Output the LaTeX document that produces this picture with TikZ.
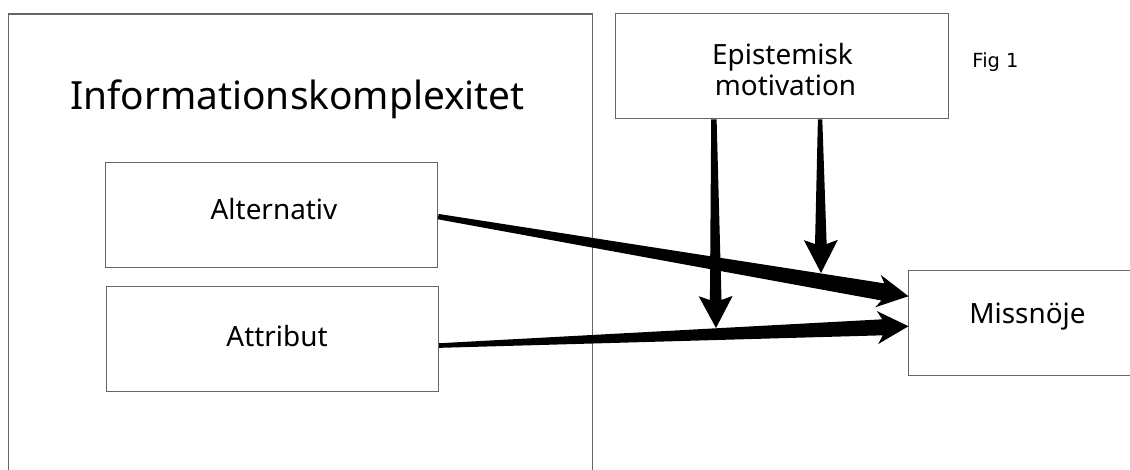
\documentclass[tikz,border=0pt]{standalone}
\usepackage{fontspec}
\setmainfont{Noto Sans}
\newfontfamily\figfont{DejaVu Sans}
\usetikzlibrary{calc}
\newcommand{\taper}[7]{% start, tip, start hw, shaft-end hw, head hw, shaft length to tip, head corner distance
  \path (#1) coordinate (tA) (#2) coordinate (tB);
  \path ($(tB)!#6!(tA)$) coordinate (tP);
  \path ($(tB)!#7!(tA)$) coordinate (tQ);
  \fill[black] ($(tA)!#3!90:(tB)$) -- ($(tP)!#4!90:(tB)$) -- ($(tQ)!#5!90:(tB)$) -- (tB)
    -- ($(tQ)!#5!-90:(tB)$) -- ($(tP)!#4!-90:(tB)$) -- ($(tA)!#3!-90:(tB)$) -- cycle;
}
\tikzset{
  box/.style={draw=black!60, line width=1.1bp, rectangle, inner sep=0pt},
  edge/.style={draw=black!60, line width=1.1bp},
  lbl/.style={font=\fontsize{28}{32}\selectfont, inner sep=0pt, anchor=base},
}
\begin{document}
\begin{tikzpicture}[x=1bp,y=-1bp]
\useasboundingbox (0,0) rectangle (1130,470);
% big frame (open beyond the bottom edge)
\node[minimum width=584bp, minimum height=456bp, anchor=north west, inner sep=0pt] (frame) at (8.4,14) {};
\draw[edge] (frame.south west) -- (frame.north west) -- (frame.north east) -- (frame.south east);
\node[lbl, font=\fontsize{39}{44}\selectfont] (title) at (297.5,109.5) {Informationskomplexitet};
% boxes
\node[box, minimum width=332bp, minimum height=104.7bp, anchor=north west] (alt) at (105,162) {};
\node[lbl] (altT) at (274,220) {Alternativ};
\node[box, minimum width=332bp, minimum height=105bp, anchor=north west] (attr) at (106,285.7) {};
\node[lbl] (attrT) at (277,346.7) {Attribut};
\node[box, minimum width=332.7bp, minimum height=105bp, anchor=north west] (epi) at (615,13.3) {};
\node[lbl] (epiT1) at (782.5,64.3) {Epistemisk};
\node[lbl] (epiT2) at (785.5,95.7) {motivation};
\node[minimum width=221.5bp, minimum height=104.3bp, anchor=north west, inner sep=0pt] (miss) at (908.5,270.7) {};
\draw[edge] (miss.north east) -- (miss.north west) -- (miss.south west) -- (miss.south east);
\node[lbl] (missT) at (1027.5,323.3) {Missnöje};
\node[font=\figfont\fontsize{19.5}{22}\selectfont, inner sep=0pt, anchor=base] (fig) at (995.5,67.5) {Fig 1};
% connectors
\coordinate (altS) at ($(alt.east)+(0,1.7)$);
\coordinate (attrS) at ($(attr.east)+(0,6.8)$);
\coordinate (missA) at ($(miss.west)+(0,-26.8)$);
\coordinate (missB) at ($(miss.west)+(0,3.2)$);
\coordinate (epiS1) at ($(epi.south)+(-68,0)$);
\coordinate (epiS2) at ($(epi.south)+(38.2,0)$);
\coordinate (m1) at (716,328);
\coordinate (m2) at (821,273);
\taper{altS}{missA}{2.7bp}{8.7bp}{16.5bp}{26bp}{31bp}
\taper{attrS}{missB}{2.3bp}{8bp}{16.5bp}{26bp}{31bp}
\taper{epiS1}{m1}{2.7bp}{5.8bp}{17bp}{28bp}{32bp}
\taper{epiS2}{m2}{2.2bp}{5.8bp}{17bp}{29bp}{33bp}
\end{tikzpicture}
\end{document}
